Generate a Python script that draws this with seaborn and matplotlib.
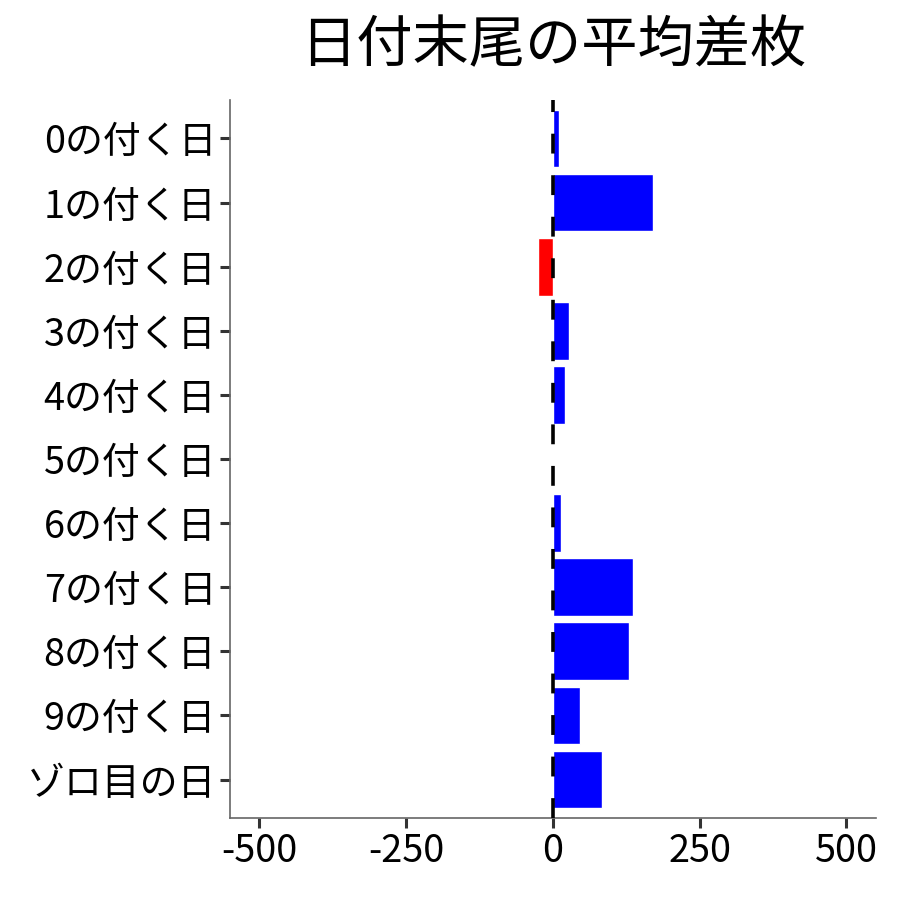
import numpy as np
import pandas as pd
import matplotlib
matplotlib.use("Agg")
import matplotlib.pyplot as plt
import seaborn as sns

# 日付末尾ごとの平均差枚
days = ["0の付く日", "1の付く日", "2の付く日", "3の付く日", "4の付く日",
        "5の付く日", "6の付く日", "7の付く日", "8の付く日", "9の付く日", "ゾロ目の日"]
avg_diff = [10, 171, -26, 27, 21, 0, 14, 137, 129, 47, 84]
x_ticks = [-500, -250, 0, 250, 500]

df = pd.DataFrame({"day": days, "diff": avg_diff})
colors = {d: ("blue" if v >= 0 else "red") for d, v in zip(days, avg_diff)}

sns.set_theme(style="ticks")
plt.rcParams["font.family"] = ["Noto Sans CJK JP", "DejaVu Sans"]

fig = plt.figure(figsize=(9, 9), dpi=100)
ax = fig.add_axes([0.2556, 0.0911, 0.7174, 0.7978])

sns.barplot(data=df, x="diff", y="day", hue="day", palette=colors,
            order=days, width=0.9, legend=False, saturation=1, ax=ax)

# 0の位置に破線
ax.axvline(0, color="black", linestyle=(0, (5.5, 6.0)), linewidth=2.6,
           dash_capstyle="butt", zorder=5)

ax.set_xlim(-550, 550)
ax.set_ylim(len(days) - 0.4, -0.6)
ax.set_xticks(x_ticks)
ax.set_xticklabels([str(t) for t in x_ticks])
ax.set_xlabel("")
ax.set_ylabel("")
ax.tick_params(axis="both", labelsize=27.3, colors="#333333", length=7, width=2.2,
               labelcolor="black", pad=3)
for side in ["top", "right"]:
    ax.spines[side].set_visible(False)
for side in ["left", "bottom"]:
    ax.spines[side].set_color("#666666")
    ax.spines[side].set_linewidth(1.2)

fig.text(0.6144, 0.948, "日付末尾の平均差枚", ha="center", va="center",
         fontsize=40.5, color="black")

fig.savefig("out.png", dpi=100)
